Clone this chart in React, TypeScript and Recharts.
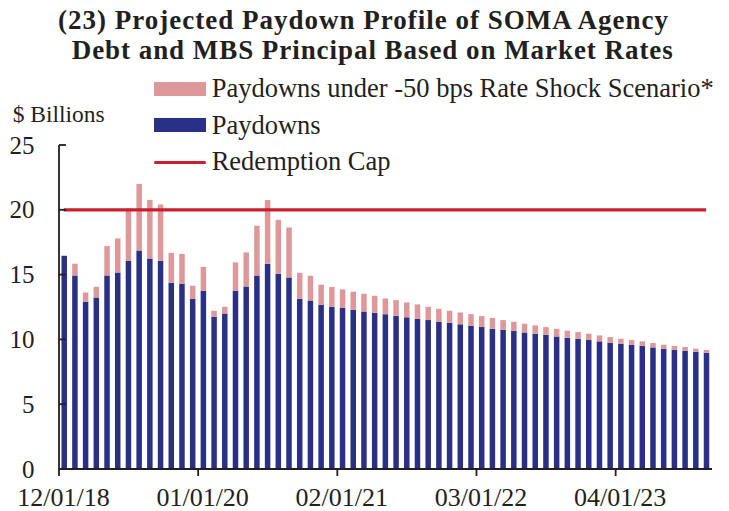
import { ComposedChart, Bar, Line, XAxis, YAxis } from 'recharts';

// monthly, 12/2018 .. 12/2023 ($ billions)
const paydowns = [
    16.45, 14.94, 12.9, 13.24, 14.94, 15.17, 16.04, 16.86, 16.25, 16.07,
    14.37, 14.29, 13.11, 13.75, 11.75, 12.0, 13.75, 14.09, 14.94, 15.84,
    15.06, 14.78, 13.14, 13.0, 12.67, 12.52, 12.42, 12.29, 12.16, 12.06,
    11.95, 11.83, 11.7, 11.59, 11.49, 11.36, 11.29, 11.16, 11.05, 10.95,
    10.82, 10.75, 10.64, 10.54, 10.44, 10.36, 10.23, 10.13, 10.05, 9.95,
    9.85, 9.74, 9.67, 9.59, 9.51, 9.38, 9.28, 9.2, 9.13, 9.05, 8.97
];

// total bar height under the -50 bps scenario
const shockTotals = [
    16.45, 15.84, 13.62, 14.06, 17.2, 17.79, 20.1, 22.0, 20.77, 20.41,
    16.68, 16.6, 14.14, 15.6, 12.21, 12.52, 15.94, 16.71, 18.77, 20.75,
    19.23, 18.64, 15.14, 14.91, 14.22, 14.04, 13.86, 13.68, 13.52, 13.37,
    13.16, 13.03, 12.85, 12.7, 12.52, 12.36, 12.21, 12.08, 11.95, 11.8,
    11.65, 11.49, 11.36, 11.21, 11.08, 10.95, 10.82, 10.67, 10.57, 10.44,
    10.31, 10.18, 10.05, 9.95, 9.85, 9.72, 9.59, 9.49, 9.41, 9.28, 9.18
];

const redemptionCap = 20;

const tickMonths = [0, 13, 26, 39, 52];
const tickLabels = ['12/01/18', '01/01/20', '02/01/21', '03/01/22', '04/01/23'];
const yTicks = [0, 5, 10, 15, 20, 25];

const BLUE = '#2b3087';
const PINK = '#de9899';
const RED = '#c8202f';
const INK = '#231f20';
const FONT = '"Liberation Serif", "Times New Roman", serif';

const chartData = paydowns.map((v, i) => ({
    m: i + 0.45,
    paydowns: v,
    shockExtra: Math.max(0, +(shockTotals[i] - v).toFixed(2)),
    cap: redemptionCap
}));

const XTick = ({ x, y, payload }: any) => {
    const idx = tickMonths.indexOf(payload.value);
    return (
        <g>
            <line x1={x} y1={y} x2={x} y2={y + 7} stroke={INK} strokeWidth={1.8} />
            <text x={x + 4.5} y={y + 37} textAnchor="middle" fill={INK}
                style={{ fontFamily: FONT, fontSize: 26 }}>
                {tickLabels[idx]}
            </text>
        </g>
    );
};

const YTick = ({ x, y, payload }: any) => (
    <g>
        <line x1={x} y1={y} x2={x + 7} y2={y} stroke={INK} strokeWidth={1.8} />
        <text x={x - 24.5} y={y + 8.5} textAnchor="end" fill={INK}
            style={{ fontFamily: FONT, fontSize: 25 }}>
            {payload.value}
        </text>
    </g>
);

const txt = (top: number, left: number, size: number, bold = false, spacing = 0): React.CSSProperties => ({
    position: 'absolute',
    top,
    left,
    fontSize: size,
    lineHeight: `${size}px`,
    fontWeight: bold ? 'bold' : 'normal',
    letterSpacing: spacing,
    whiteSpace: 'nowrap',
    color: INK
});

const swatch = (top: number, height: number, color: string, round = false): React.CSSProperties => ({
    position: 'absolute',
    top,
    left: 154,
    width: 52,
    height,
    backgroundColor: color,
    borderRadius: round ? 2 : 0
});

export default function App() {
    return (
        <div style={{ position: 'absolute', left: 0, top: 0, width: 729, height: 511, fontFamily: FONT, background: '#fff' }}>
            <ComposedChart
                width={729}
                height={511}
                data={chartData}
                margin={{ top: 145, right: 17, bottom: 0, left: 9 }}
            >
                <XAxis
                    dataKey="m"
                    type="number"
                    domain={[0, 61]}
                    ticks={tickMonths}
                    interval={0}
                    height={42}
                    tickSize={0}
                    tickMargin={0}
                    tick={<XTick />}
                    axisLine={{ stroke: INK, strokeWidth: 1.8 }}
                    allowDecimals={false}
                />
                <YAxis
                    domain={[0, 25]}
                    ticks={yTicks}
                    width={50}
                    tickSize={0}
                    tickMargin={0}
                    tick={<YTick />}
                    axisLine={{ stroke: INK, strokeWidth: 1.8 }}
                />
                <Bar dataKey="paydowns" stackId="a" fill={BLUE} barSize={5.5} isAnimationActive={false} />
                <Bar dataKey="shockExtra" stackId="a" fill={PINK} barSize={5.5} isAnimationActive={false} />
                <Line
                    dataKey="cap"
                    type="linear"
                    stroke={RED}
                    strokeWidth={3.3}
                    dot={false}
                    activeDot={false}
                    isAnimationActive={false}
                />
            </ComposedChart>

            <div style={txt(7, 58, 27, true, 1)}>(23) Projected Paydown Profile of SOMA Agency</div>
            <div style={txt(36.5, 71.7, 27, true, 0.95)}>Debt and MBS Principal Based on Market Rates</div>

            <div style={txt(103.3, 12.7, 23.5)}>$ Billions</div>

            <div style={swatch(82.3, 13.4, PINK)} />
            <div style={txt(75.1, 211.7, 26.5)}>Paydowns under -50 bps Rate Shock Scenario*</div>
            <div style={swatch(118.3, 13.4, BLUE)} />
            <div style={txt(111.8, 211.7, 26.5)}>Paydowns</div>
            <div style={swatch(160.6, 3.3, RED, true)} />
            <div style={txt(147.8, 211.7, 26.5)}>Redemption Cap</div>
        </div>
    );
}
